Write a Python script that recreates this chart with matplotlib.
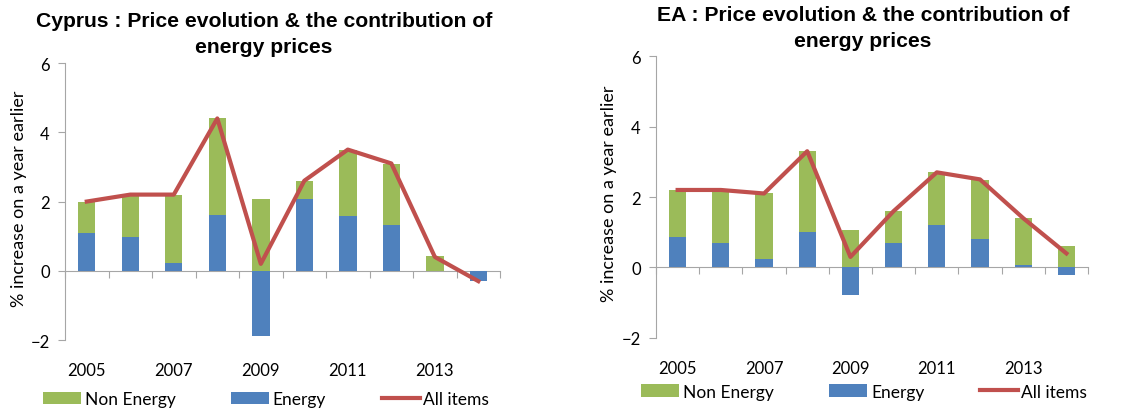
import matplotlib
matplotlib.use('Agg')
import matplotlib.pyplot as plt
import numpy as np

years = [2005, 2006, 2007, 2008, 2009, 2010, 2011, 2012, 2013, 2014]
tick_years = [2005, 2007, 2009, 2011, 2013]

# Cyprus
cy_energy = [1.10, 0.98, 0.21, 1.60, -1.89, 2.06, 1.57, 1.31, -0.02, -0.30]
cy_non_energy = [0.90, 1.20, 1.98, 2.80, 2.08, 0.54, 1.91, 1.78, 0.43, 0.0]
cy_all = [2.0, 2.2, 2.2, 4.4, 0.2, 2.6, 3.5, 3.1, 0.4, -0.3]

# Euro area
ea_energy = [0.87, 0.70, 0.24, 1.00, -0.78, 0.70, 1.21, 0.82, 0.06, -0.21]
ea_non_energy = [1.33, 1.48, 1.86, 2.30, 1.07, 0.90, 1.49, 1.67, 1.34, 0.60]
ea_all = [2.2, 2.2, 2.1, 3.3, 0.3, 1.6, 2.7, 2.5, 1.4, 0.4]

green = '#9BBB59'
blue = '#4F81BD'
red = '#C0504D'
grey = '#A6A6A6'
txt_font = 'Lato'

fig = plt.figure(figsize=(11.35, 4.14), dpi=100)


def panel(rect, energy, non_energy, all_items, title_lines, title_pos, ylab_x, leg_pos):
    ax = fig.add_axes(rect)
    x = np.arange(len(years))
    energy = np.array(energy)
    non_energy = np.array(non_energy)
    # non energy stacks on top of positive energy, from zero otherwise
    base = np.where(energy > 0, energy, 0)
    b1 = ax.bar(x, non_energy, 0.4, bottom=base, color=green, label='Non Energy', zorder=2)
    b2 = ax.bar(x, energy, 0.4, color=blue, label='Energy', zorder=2)
    l1, = ax.plot(x, all_items, color=red, lw=3, label='All items', zorder=3)

    ax.set_xlim(-0.5, len(years) - 0.5)
    ax.set_ylim(-2, 6)
    ax.set_yticks([-2, 0, 2, 4, 6])
    ax.tick_params(axis='y', length=5, color=grey, labelsize=12, pad=6)
    for lab in ax.get_yticklabels():
        lab.set_fontfamily(txt_font)

    ax.set_xticks([years.index(y) for y in tick_years])
    ax.set_xticklabels([str(y) for y in tick_years], fontfamily=txt_font, fontsize=12)
    ax.tick_params(axis='x', length=0, pad=16)

    for s in ['top', 'right', 'bottom']:
        ax.spines[s].set_visible(False)
    ax.spines['left'].set_color(grey)

    # zero line with tick marks between categories
    sec = ax.secondary_xaxis(0.25)
    sec.set_xticks(np.arange(len(years) + 1) - 0.5)
    sec.tick_params(length=5, color=grey, labelbottom=False)
    sec.spines['bottom'].set_color(grey)

    tx, ty1, ty2 = title_pos
    for line, ty in zip(title_lines, (ty1, ty2)):
        fig.text(tx / 1135, 1 - ty / 414, line, ha='center', va='baseline',
                 fontsize=15.2, fontweight='bold', fontfamily='Liberation Sans')
    fig.text(ylab_x, rect[1] + rect[3] / 2 + 0.01, '% increase on a year earlier',
             rotation=90, ha='center', va='center', fontsize=13, fontfamily=txt_font)

    ax.legend([b1, b2, l1], ['Non Energy', 'Energy', 'All items'],
              loc='center', bbox_to_anchor=leg_pos, ncol=3, frameon=False,
              prop={'family': txt_font, 'size': 12.5}, handlelength=2.2,
              handletextpad=0.2, columnspacing=3.2, borderaxespad=0)
    return ax


panel([0.0573, 0.1763, 0.3833, 0.669], cy_energy, cy_non_energy, cy_all,
      ['Cyprus : Price evolution & the contribution of', 'energy prices'],
      (264, 27, 53), 0.017, (0.462, -0.213))
panel([0.578, 0.1812, 0.3806, 0.681], ea_energy, ea_non_energy, ea_all,
      ['EA : Price evolution & the contribution of', 'energy prices'],
      (863, 21, 47), 0.537, (0.482, -0.19))

fig.savefig('out.png', dpi=100)
